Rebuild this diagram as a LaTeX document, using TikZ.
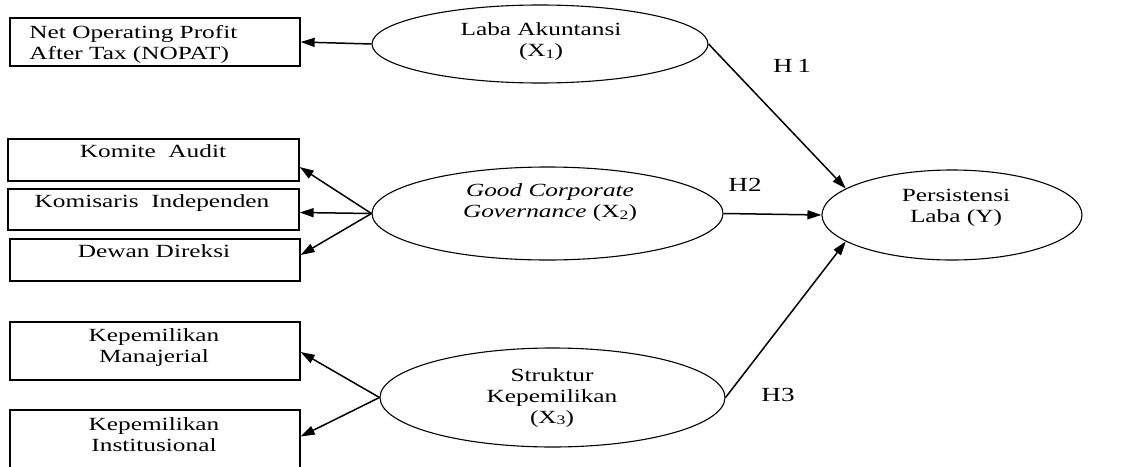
\documentclass[tikz,border=0pt]{standalone}
\usepackage{fontspec}
\usepackage{graphicx}
\setmainfont{Liberation Serif}
\usetikzlibrary{shapes.geometric,arrows.meta}
\newcommand{\stretchtxt}[2][c]{\scalebox{1.36}[1]{\begin{tabular}{@{}#1@{}}#2\end{tabular}}}
\newcommand{\lowdig}[1]{\raisebox{-0.2ex}{\fontsize{6.5}{6.5}\selectfont #1}}
\begin{document}
\begin{tikzpicture}[x=0.5pt,y=-0.5pt,
  txt/.style={inner sep=0pt,font=\fontsize{9.3}{10.5}\selectfont},
  hlab/.style={inner sep=0pt,font=\fontsize{10}{11}\selectfont},
  box/.style={draw,line width=0.65pt,inner sep=0pt,minimum width=145pt},
  oval/.style={draw,ellipse,line width=0.55pt,inner sep=0pt},
  arr/.style={line width=0.75pt,-{Triangle[length=7pt,width=4.5pt]}}]
\clip (0,0) rectangle (1124,466);
% boxes
\node[box,minimum height=24pt] (nopat) at (155,42) {};
\node[box,minimum width=145.5pt,minimum height=21pt] (ka) at (153.5,160) {};
\node[box,minimum width=145.5pt,minimum height=20.5pt] (ki) at (153.5,209.5) {};
\node[box,minimum height=21pt] (dd) at (155,260) {};
\node[box,minimum height=29pt] (km) at (155,351) {};
\node[box,minimum height=32.5pt] (kin) at (155,442.5) {};
% box texts
\node[txt,anchor=west] (tnopat) at (29,45) {\stretchtxt[l]{Net Operating Profit\\After Tax (NOPAT)}};
\node[txt] (tka) at (153,153) {\stretchtxt{Komite\ \ Audit}};
\node[txt] (tki) at (152,203) {\stretchtxt{Komisaris\ \ Independen}};
\node[txt] (tdd) at (154,253) {\stretchtxt{Dewan Direksi}};
\node[txt] (tkm) at (154,348) {\stretchtxt{Kepemilikan\\Manajerial}};
\node[txt] (tkin) at (154,437) {\stretchtxt{Kepemilikan\\Institusional}};
% ellipses
\node[oval,minimum width=168pt,minimum height=39pt] (la) at (540,44) {};
\node[oval,minimum width=175.5pt,minimum height=46.5pt] (gcg) at (547.5,213.5) {};
\node[oval,minimum width=172.5pt,minimum height=49.5pt] (sk) at (552.5,397.5) {};
\node[oval,minimum width=130pt,minimum height=45pt] (py) at (952,215) {};
% ellipse texts
\node[txt] (tla) at (541,42) {\stretchtxt{Laba Akuntansi\\(X\lowdig{1})}};
\node[txt] (tgcg) at (550,203) {\stretchtxt{\textit{Good Corporate}\\\textit{Governance} (X\lowdig{2})}};
\node[txt] (tsk) at (552,398) {\stretchtxt{Struktur\\Kepemilikan\\(X\lowdig{3})}};
\node[txt] (tpy) at (956,207.5) {\stretchtxt{Persistensi\\Laba (Y)}};
% hypothesis labels
\node[hlab] (h1) at (792,68) {\stretchtxt{H\,1}};
\node[hlab] (h2) at (745,187) {\stretchtxt{H2}};
\node[hlab] (h3) at (778,397) {\stretchtxt{H3}};
% connectors
\draw[arr] (la.west) -- (nopat.east);
\draw[arr] (gcg.west) -- ([yshift=-3.5pt]ka.east);
\draw[arr] (gcg.west) -- ([yshift=-1.5pt]ki.east);
\draw[arr] (gcg.west) -- ([yshift=2.5pt]dd.east);
\draw[arr] (sk.west) -- ([yshift=-0.5pt]km.east);
\draw[arr] (sk.west) -- ([yshift=3pt]kin.east);
\draw[arr] (la.east) -- (py.166);
\draw[arr] (gcg.east) -- (py.west);
\draw[arr] (sk.east) -- (py.194);
\end{tikzpicture}
\end{document}
